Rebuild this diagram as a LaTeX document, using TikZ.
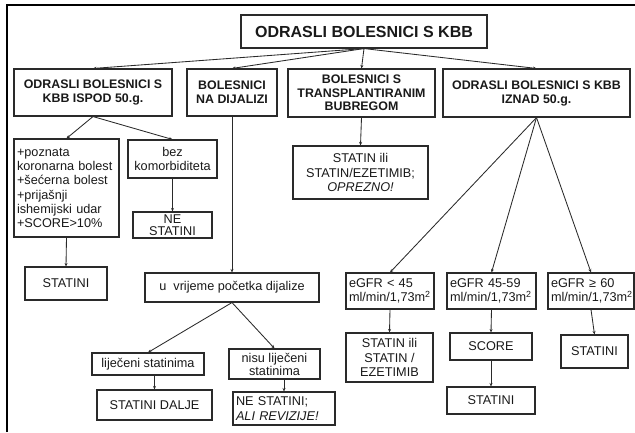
\documentclass[tikz,border=0pt]{standalone}
\usepackage{fontspec}
\setmainfont{Liberation Sans}
\usetikzlibrary{arrows.meta}
\definecolor{boxgray}{HTML}{2A2A2A}

\begin{document}
\begin{tikzpicture}[x=1pt,y=-1pt,
	box/.style={draw=boxgray, line width=1.1pt, inner sep=1pt, align=center, text=black!90, font=\fontsize{12.7}{14.3}\selectfont},
	head/.style={box, font=\bfseries\fontsize{12.4}{14}\selectfont},
	lbox/.style={box, align=left, inner xsep=3pt},
	arr/.style={draw=boxgray, line width=0.85pt, -{Stealth[length=3.5pt,width=3pt]}}]
	\useasboundingbox (0,0) rectangle (635,432);
	\draw[line width=1.2pt] (7,432) -- (7,5) -- (635,5);
	% top level
	\node[head, font=\bfseries\fontsize{16}{19}\selectfont, minimum width=246pt, minimum height=33pt] (top) at (364,31.5) {ODRASLI BOLESNICI S KBB};
	\node[head, minimum width=158pt, minimum height=47pt] (odA) at (93,92.5) {ODRASLI BOLESNICI S\\KBB ISPOD 50.g.};
	\node[head, minimum width=90pt, minimum height=47pt] (dial) at (232,92.5) {BOLESNICI\\NA DIJALIZI};
	\node[head, font=\bfseries\fontsize{12.4}{13.5}\selectfont, minimum width=147pt, minimum height=48pt] (trans) at (361.5,93) {BOLESNICI S\\TRANSPLANTIRANIM\\BUBREGOM};
	\node[head, minimum width=187pt, minimum height=48pt] (odD) at (536.5,93) {ODRASLI BOLESNICI S KBB\\IZNAD 50.g.};
	% ispod 50 g.
	\node[lbox, text width=99pt, minimum height=98pt] (rizik) at (66.5,188) {+poznata\\koronarna bolest\\+šećerna bolest\\+prijašnji\\ishemijski udar\\+SCORE>10\%};
	\node[box, minimum width=89pt, minimum height=38pt] (bezkom) at (172.5,159) {bez\\komorbiditeta};
	\node[box, inner sep=0pt, font=\fontsize{12.7}{12.5}\selectfont, minimum width=79pt, minimum height=26pt] (nestat) at (172.5,225) {NE\\STATINI};
	\node[box, minimum width=82pt, minimum height=33pt] (statA) at (66,283.5) {STATINI};
	% dijaliza
	\node[box, minimum width=174pt, minimum height=29pt] (pocetak) at (232,287.5) {u~ vrijeme početka dijalize};
	\node[box, minimum width=112pt, minimum height=22pt] (lijec) at (148,364) {liječeni statinima};
	\node[box, font=\fontsize{12.7}{13}\selectfont, minimum width=91pt, minimum height=30pt] (nisu) at (274.5,364) {nisu liječeni\\statinima};
	\node[box, minimum width=115pt, minimum height=30pt] (dalje) at (154.5,405) {STATINI DALJE};
	\node[lbox, text width=96pt, minimum height=33pt] (revizije) at (284,408.5) {NE STATINI;\\\textit{ALI REVIZIJE!}};
	% transplantacija
	\node[box, minimum width=135pt, minimum height=53pt] (oprezno) at (360.5,172.5) {STATIN ili\\STATIN/EZETIMIB;\\\textit{OPREZNO!}};
	% iznad 50 g.
	\node[lbox, text width=82pt, minimum height=36pt] (egfrA) at (390,291) {eGFR < 45\\ml/min/1,73m\textsuperscript{2}};
	\node[lbox, text width=83pt, minimum height=36pt] (egfrB) at (491.5,291) {eGFR 45-59\\ml/min/1,73m\textsuperscript{2}};
	\node[lbox, text width=80pt, minimum height=36pt] (egfrC) at (591,291) {eGFR ≥ 60\\ml/min/1,73m\textsuperscript{2}};
	\node[box, minimum width=87pt, minimum height=49pt] (ezet) at (389.5,357.5) {STATIN ili\\STATIN /\\EZETIMIB};
	\node[box, minimum width=82pt, minimum height=27pt] (score) at (491,346.5) {SCORE};
	\node[box, minimum width=88pt, minimum height=27pt] (statD) at (491,400.5) {STATINI};
	\node[box, minimum width=67pt, minimum height=33pt] (statE) at (594.5,351.5) {STATINI};
	% strelice
	\foreach \a/\b in {top/odA, top/dial, top/trans, top/odD, odA/rizik, odA/bezkom, bezkom/nestat, rizik/statA, dial/pocetak, pocetak/lijec, pocetak/nisu, trans/oprezno, odD/egfrA, odD/egfrB, odD/egfrC, egfrA/ezet, egfrB/score, score/statD, egfrC/statE}
		\draw[arr] (\a.south) -- (\b.north);
	\draw[arr] (dalje.north |- lijec.south) -- (dalje.north);
	\draw[arr] (revizije.north |- nisu.south) -- (revizije.north);
\end{tikzpicture}
\end{document}
